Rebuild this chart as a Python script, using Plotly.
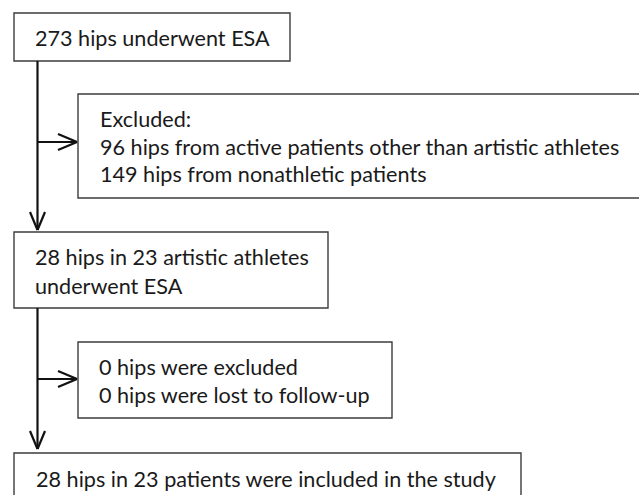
import plotly.graph_objects as go

# ---- content ----
box_texts = [
    ["273 hips underwent ESA"],
    ["Excluded:",
     "96 hips from active patients other than artistic athletes",
     "149 hips from nonathletic patients"],
    ["28 hips in 23 artistic athletes", "underwent ESA"],
    ["0 hips were excluded", "0 hips were lost to follow-up"],
    ["28 hips in 23 patients were included in the study"],
]

# ---- layout (pixel geometry) ----
W, H = 639, 495
boxes = [  # x0, y0, x1, y1
    (14, 13, 290, 61),
    (78, 94, 660, 198),
    (14, 232, 328, 308),
    (78, 342, 392, 418),
    (14, 453, 521, 520),
]
text_x = [33, 98, 33, 97, 34]
text_y0 = [38, 119, 257, 367, 479]
line_gap = [0, 27.5, 28.5, 28, 0]
trunk_x = 37.5

FONT = "Lato"
FSIZE = 21.6
TXT = "#1a1a1a"
BORDER = "#3c3c3c"

fig = go.Figure()
shapes = []
for (x0, y0, x1, y1) in boxes:
    shapes.append(dict(type="rect", x0=x0, y0=y0, x1=x1, y1=y1,
                       line=dict(color=BORDER, width=1.4), fillcolor="white",
                       layer="above"))

def arrow_line(xa, ya, xb, yb):
    shapes.append(dict(type="line", x0=xa, y0=ya, x1=xb, y1=yb,
                       line=dict(color="#111111", width=2.2)))

def chevron_down(x, y):
    arrow_line(x - 7.5, y - 18, x, y)
    arrow_line(x + 7.5, y - 18, x, y)

def chevron_right(x, y):
    arrow_line(x - 19, y - 8, x, y)
    arrow_line(x - 19, y + 8, x, y)

# segment 1
arrow_line(trunk_x, boxes[0][3], trunk_x, boxes[2][1] - 2)
chevron_down(trunk_x, boxes[2][1] - 2)
arrow_line(trunk_x, 142, boxes[1][0] - 1, 142)
chevron_right(boxes[1][0] - 1, 142)
# segment 2
arrow_line(trunk_x, boxes[2][3], trunk_x, boxes[4][1] - 4)
chevron_down(trunk_x, boxes[4][1] - 4)
arrow_line(trunk_x, 379, boxes[3][0] - 1, 379)
chevron_right(boxes[3][0] - 1, 379)

annotations = []
for i, lines in enumerate(box_texts):
    for j, t in enumerate(lines):
        annotations.append(dict(x=text_x[i], y=text_y0[i] + j * line_gap[i],
                                text=t, showarrow=False, xanchor="left",
                                yanchor="middle", xref="x", yref="y",
                                font=dict(family=FONT, size=FSIZE, color=TXT)))

fig.update_layout(
    width=W, height=H, margin=dict(l=0, r=0, t=0, b=0),
    paper_bgcolor="white", plot_bgcolor="white",
    xaxis=dict(range=[0, W], visible=False, fixedrange=True),
    yaxis=dict(range=[H, 0], visible=False, fixedrange=True),
    shapes=shapes, annotations=annotations, showlegend=False,
)
fig.write_html("out.html", config={"displayModeBar": False},
               post_script="document.body.style.margin='0';document.body.style.overflow='hidden';")
